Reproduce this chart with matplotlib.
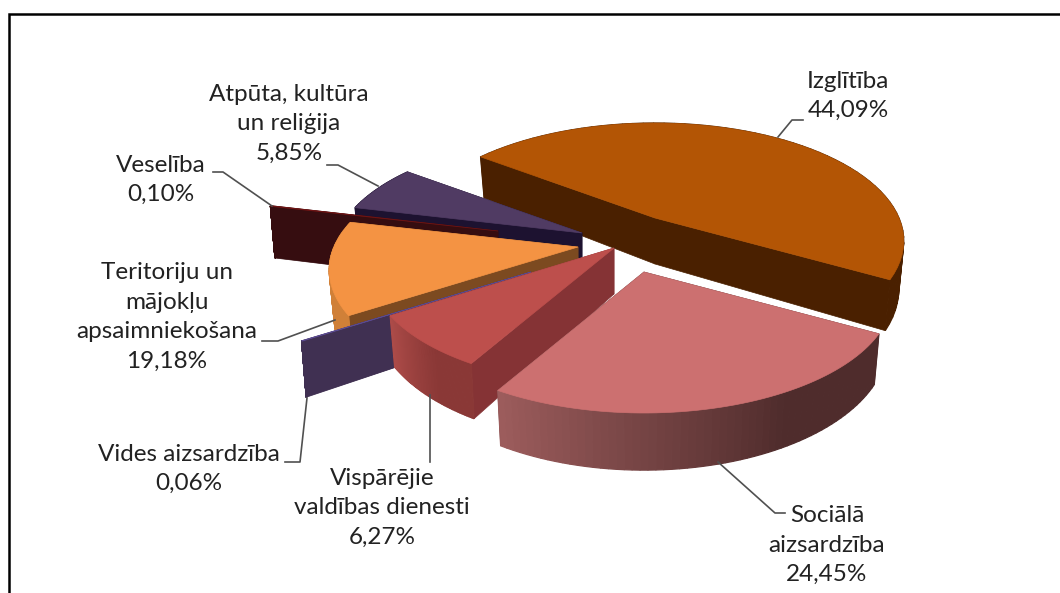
"""3D exploded pie of budget spending by function (Latvian labels)."""
import matplotlib
matplotlib.use("Agg")
import matplotlib.pyplot as plt
import numpy as np
from matplotlib.patches import Polygon

CATEGORIES = ["Izglītība", "Sociālā\naizsardzība", "Vispārējie\nvaldības dienesti",
              "Vides aizsardzība", "Teritoriju un\nmājokļu\napsaimniekošana",
              "Veselība", "Atpūta, kultūra\nun reliģija"]
PERCENT = [44.09, 24.45, 6.27, 0.06, 19.18, 0.10, 5.85]
# wedge sizes as actually drawn in the picture, they differ a bit from the printed labels
DRAWN_SHARE = [47.7, 25.0, 7.5, 0.06, 12.7, 0.10, 6.5]

START_ANGLE = 143.0
RX, RY, PERSP = 244.0, 113.5, 0.195

APEX = [(655, 218), (644, 272), (614, 248), (531, 272), (578, 247), (498, 231), (582, 233)]
RADIUS = [1.0, 1.0, 0.98, 1.0, 1.0, 1.0, 1.0]
DEPTH = [46, 46, 46, 50, 46, 54, 46]
TOP = ["#B35505", "#CC7070", "#BD4F4C", "#5A4A90", "#F49343", "#6E1414", "#503B63"]
WALL = ["#4A2000", "#532D2D", "#853335", "#403052", "#7C4A20", "#360D10", "#1D1230"]
RIM_A = ["#4A2000", "#4F2C2C", "#8A3836", "#403052", "#D08038", "#360D10", "#1D1230"]
RIM_B = ["#4A2000", "#9C5C5C", "#AC4B48", "#403052", "#D08038", "#360D10", "#1D1230"]
DRAW_ORDER = [0, 6, 5, 4, 3, 2, 1]

LABEL_POS = [(848, 96), (827, 545), (382, 508), (189, 469), (167, 317), (161, 180), (289, 124)]
LEADERS = [
    [(803, 120), (792, 120), (778, 137)],
    [(718, 462), (775, 513), (785, 513)],
    [(430, 395), (430, 462)],
    [(307, 398), (300, 462), (285, 462)],
    [(335, 320), (278, 341), (262, 341)],
    [(272, 206), (223, 172), (213, 172)],
    [(378, 186), (338, 165), (327, 165)],
]

plt.rcParams["font.family"] = ["Lato", "DejaVu Sans"]


def project(apex, ang, rad=1.0, depth=None):
    """Disc point at angle ang (radians) to picture pixels."""
    X, Y = rad * np.cos(ang), rad * np.sin(ang)
    w = 1 + PERSP * Y
    x = RX * X / w
    y = -RY * Y / w
    if depth is not None:
        x = x * 0.98
        y = y + depth / w
    return apex[0] + x, apex[1] + y


def mix(c1, c2, t):
    a, b = np.array(matplotlib.colors.to_rgb(c1)), np.array(matplotlib.colors.to_rgb(c2))
    return a + (b - a) * t


def draw_slice(ax, apex, a0, a1, rad, depth, top, wall, rim_a, rim_b):
    angs = np.linspace(a0, a1, 60)
    xt, yt = project(apex, angs, rad)
    xb, yb = project(apex, angs, rad, depth)
    ax0, ay0 = project(apex, 0.0, 0.0)
    bx0, by0 = project(apex, 0.0, 0.0, depth)

    # radial walls
    for i in (0, -1):
        ax.add_patch(Polygon([(ax0, ay0), (xt[i], yt[i]), (xb[i], yb[i]), (bx0, by0)],
                             fc=wall, ec=wall, lw=0.5))
    # outer rim, one strip per step so the shading can change along it
    for i in range(len(angs) - 1):
        t = max(0.0, (i / (len(angs) - 2) - 0.35) / 0.65)
        c = mix(rim_a, rim_b, t)
        ax.add_patch(Polygon([(xt[i], yt[i]), (xt[i + 1], yt[i + 1]),
                              (xb[i + 1], yb[i + 1]), (xb[i], yb[i])],
                             fc=c, ec=c, lw=0.9))
    pts = [(ax0, ay0)] + list(zip(xt, yt))
    ax.add_patch(Polygon(pts, fc=top, ec=top, lw=0.5))


def main():
    fig = plt.figure(figsize=(10.6, 5.93), dpi=100)
    ax = fig.add_axes([0, 0, 1, 1])
    ax.set_xlim(0, 1060)
    ax.set_ylim(593, 0)
    ax.axis("off")

    ax.plot([9, 9, 1060], [593, 13.5, 13.5], color="black", lw=1.8,
            solid_joinstyle="miter")

    fracs = np.array(DRAWN_SHARE) / sum(DRAWN_SHARE)
    edges = np.radians(START_ANGLE - 360 * np.concatenate([[0], np.cumsum(fracs)]))
    for i in DRAW_ORDER:
        draw_slice(ax, APEX[i], edges[i], edges[i + 1], RADIUS[i], DEPTH[i],
                   TOP[i], WALL[i], RIM_A[i], RIM_B[i])

    for pts in LEADERS:
        xs, ys = zip(*pts)
        ax.plot(xs, ys, color="#505050", lw=1.2)

    for name, val, (x, y) in zip(CATEGORIES, PERCENT, LABEL_POS):
        txt = name + "\n" + f"{val:.2f}".replace(".", ",") + "%"
        ax.text(x, y, txt, ha="center", va="center", fontsize=17.5, color="#222222",
                linespacing=1.5)

    fig.savefig("out.png", dpi=100)
    plt.close(fig)


if __name__ == "__main__":
    main()
